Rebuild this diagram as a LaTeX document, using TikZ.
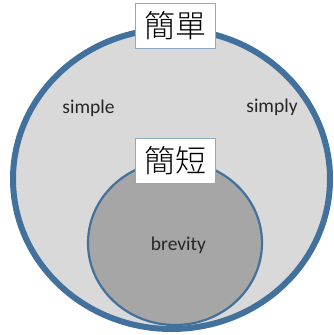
\documentclass[tikz,border=0pt]{standalone}
\usepackage{fontspec}
\setmainfont{Carlito}
\newfontfamily\cjk{Noto Sans CJK TC Light}
\usetikzlibrary{positioning}
\definecolor{rim}{HTML}{41719C}
\definecolor{outerfill}{HTML}{D9D9D9}
\definecolor{innerfill}{HTML}{A6A6A6}

\begin{document}
\begin{tikzpicture}[x=1pt,y=-1pt]
\tikzstyle{every node}+=[inner sep=0pt]
\tikzstyle{tag}=[draw=rim!60, fill=white, line width=0.8pt, minimum width=80pt, minimum height=45pt, font=\cjk\fontsize{31}{31}\selectfont]
\tikzstyle{word}=[text=black!85, font=\fontsize{19.5}{19.5}\selectfont]
\useasboundingbox (0,0) rectangle (334,335);
\draw [rim, fill=outerfill, line width=6pt] (171.5,179) ellipse (158.5 and 150);
\draw [rim, fill=innerfill, line width=2.2pt] (175,243) ellipse (87 and 82);
\node [tag] (big) at (175,26) {簡單};
\node [tag] (short) at (175.5,160.5) {簡短};
\node [word] (simple) at (88.5,108) {simple};
\node [word] (simply) at (272,107) {simply};
\node [word] (brevity) at (178.5,245) {brevity};
\end{tikzpicture}
\end{document}
